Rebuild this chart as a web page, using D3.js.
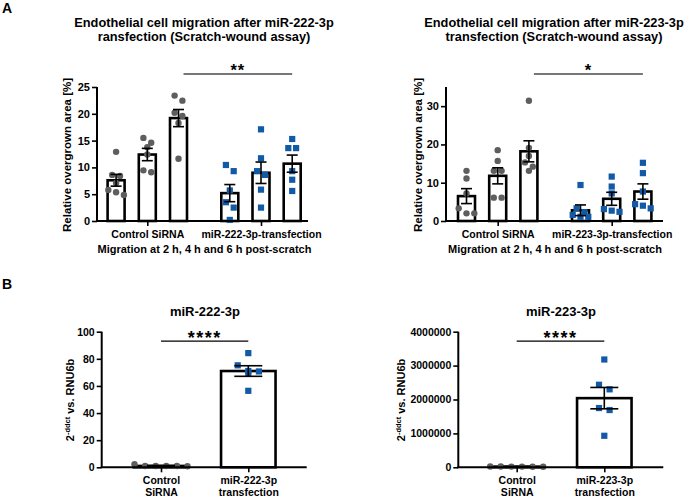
<!DOCTYPE html>
<html><head><meta charset="utf-8">
<script src="https://cdn.jsdelivr.net/npm/d3@7"></script>
<style>
body{margin:0;background:#fff}
svg{display:block}
text{font-family:"Liberation Sans",Arial,sans-serif;font-weight:bold;fill:#000}
</style>
</head><body><svg id="c" width="685" height="497"></svg>
<script>
// ---------- DATA ----------
const timepoints = ["2 h", "4 h", "6 h"];

// Panel A, left (miR-222-3p scratch assay)
const groupsA1 = ["Control SiRNA", "miR-222-3p-transfection"];
const meansA1 = [[7.6, 12.4, 19.2], [5.2, 9.0, 10.7]];
const semA1 = [[1.1, 1.15, 1.6], [1.6, 2.0, 1.6]];
const pointsA1 = [
  [[12.9, 8.6, 8.4, 7.1, 5.8, 5.35, 4.85], [15.5, 14.6, 13.75, 12.4, 9.45, 9.1], [23.4, 22.45, 20.2, 19.6, 18.3, 11.6]],
  [[10.45, 9.3, 5.7, 3.5, 2.5, 0.2], [17.1, 11.7, 9.3, 8.6, 5.85, 2.5], [15.3, 13.6, 13.6, 9.3, 7.7, 5.6]]
];
const ticksA1 = [0, 5, 10, 15, 20, 25];

// Panel A, right (miR-223-3p scratch assay)
const groupsA2 = ["Control SiRNA", "miR-223-3p-transfection"];
const meansA2 = [[6.5, 11.8, 18.2], [2.8, 5.8, 7.7]];
const semA2 = [[1.95, 2.1, 2.75], [1.4, 1.7, 2.0]];
const pointsA2 = [
  [[13.1, 11.1, 7.2, 3.3, 2.0, 2.0], [18.5, 15.7, 13.1, 13.1, 6.1, 6.1], [31.4, 19.1, 17.0, 15.3, 14.2, 13.1]],
  [[9.4, 3.3, 2.3, 1.6, 1.1, 1.1], [11.6, 9.0, 7.2, 3.1, 2.7, 2.4], [15.2, 12.5, 7.7, 4.4, 4.0, 3.3]]
];
const ticksA2 = [0, 10, 20, 30];

// Panel B, left (miR-222-3p expression)
const groupsB1 = ["Control SiRNA", "miR-222-3p transfection"];
const meansB1 = [1.0, 71.0];
const semB1 = [0.3, 3.9];
const pointsB1 = [[1.0, 2.2, 1.0, 0.8, 1.0, 1.0], [84.2, 75.2, 71.0, 69.3, 70.7, 56.4]];
const ticksB1 = [0, 20, 40, 60, 80, 100];

// Panel B, right (miR-223-3p expression)
const groupsB2 = ["Control SiRNA", "miR-223-3p transfection"];
const meansB2 = [20000, 2040000];
const semB2 = [4000, 315000];
const pointsB2 = [[15000, 20000, 25000, 18000, 22000, 20000], [3180000, 2435000, 2300000, 1748000, 1689000, 930000]];
const ticksB2 = [0, 1000000, 2000000, 3000000, 4000000];

// ---------- DRAWING ----------
const svg = d3.select("#c");
const GRAY = "#5e5e5e", BLUE = "#1259a6";

function spread(vals, y, step, thr) {
  const sorted = vals.map(v => ({v})).sort((a, b) => b.v - a.v);
  const rows = []; let cur = null;
  for (const p of sorted) {
    const py = y(p.v);
    if (cur && Math.abs(py - cur.start) < thr) cur.items.push(p);
    else { cur = {start: py, items: [p]}; rows.push(cur); }
  }
  const out = [];
  rows.forEach(r => { const k = r.items.length; r.items.forEach((p, j) => out.push({v: p.v, dx: (j - (k - 1) / 2) * step})); });
  return out;
}

function drawMarks(g, pts, cx, y, isCtrl, step, thr) {
  const s = spread(pts, y, step, thr);
  if (isCtrl) {
    g.selectAll(null).data(s).enter().append("circle")
      .attr("cx", d => cx + d.dx).attr("cy", d => y(d.v)).attr("r", 3.2).attr("fill", GRAY);
  } else {
    g.selectAll(null).data(s).enter().append("rect")
      .attr("x", d => cx + d.dx - 3.1).attr("y", d => y(d.v) - 3.1)
      .attr("width", 6.2).attr("height", 6.2).attr("fill", BLUE);
  }
}

function errBar(g, cx, y, m, e, cap) {
  g.append("line").attr("x1", cx).attr("x2", cx).attr("y1", y(m - e)).attr("y2", y(m + e))
    .attr("stroke", "#000").attr("stroke-width", 1.6);
  [m - e, m + e].forEach(v => g.append("line").attr("x1", cx - cap).attr("x2", cx + cap)
    .attr("y1", y(v)).attr("y2", y(v)).attr("stroke", "#000").attr("stroke-width", 1.6));
}

function axes(g, c, y, xg, ticks, fmt, tickFont, xPad) {
  const ya = d3.axisLeft(y).tickValues(ticks).tickSize(5).tickPadding(2).tickSizeOuter(0).tickFormat(fmt);
  const gy = g.append("g").attr("transform", `translate(${c.x0},0)`).call(ya);
  gy.select(".domain").remove();
  gy.selectAll(".tick line").attr("stroke", "#000").attr("stroke-width", 1.6);
  gy.selectAll("text").attr("font-size", tickFont).attr("font-family", null).attr("fill", "#000");
  g.append("line").attr("x1", c.x0).attr("x2", c.x0).attr("y1", c.yBot).attr("y2", c.yTop)
    .attr("stroke", "#000").attr("stroke-width", 2);
  const xa = d3.axisBottom(xg).tickSize(5).tickPadding(xPad).tickSizeOuter(0);
  const gx = g.append("g").attr("transform", `translate(0,${c.yBot})`).call(xa);
  gx.select(".domain").remove();
  gx.selectAll(".tick line").attr("stroke", "#000").attr("stroke-width", 1.6);
  gx.selectAll("text").attr("font-family", null).attr("fill", "#000");
  g.append("line").attr("x1", c.x0 - 1).attr("x2", c.x1).attr("y1", c.yBot).attr("y2", c.yBot)
    .attr("stroke", "#000").attr("stroke-width", 2);
  return gx;
}

function yTitle(x, y, parts, size) {
  const t = svg.append("text").attr("transform", `translate(${x},${y}) rotate(-90)`)
    .attr("text-anchor", "middle").attr("font-size", size);
  parts.forEach(p => {
    const ts = t.append("tspan").text(p.t);
    if (p.sup) ts.attr("font-size", size * 0.68).attr("dy", -4.5);
    if (p.after) ts.attr("dy", 4.5);
  });
}

function panelA(c, groups, means, sem, points, ticks) {
  const g = svg.append("g");
  const y = d3.scaleLinear().domain([0, c.max]).range([c.yBot, c.yTop]);
  const xg = d3.scalePoint().domain(groups).range(c.gc);
  const xt = d3.scalePoint().domain(timepoints).range([-31.2, 31.2]);
  const bw = 17;
  groups.forEach((grp, gi) => timepoints.forEach((tp, ti) => {
    const cx = xg(grp) + xt(tp);
    g.append("rect").attr("x", cx - bw / 2).attr("y", y(means[gi][ti]))
      .attr("width", bw).attr("height", c.yBot - y(means[gi][ti]))
      .attr("fill", "#fff").attr("stroke", "#000").attr("stroke-width", 2.6);
  }));
  groups.forEach((grp, gi) => timepoints.forEach((tp, ti) => {
    drawMarks(g, points[gi][ti], xg(grp) + xt(tp), y, gi === 0, 7.8, 6.5);
  }));
  groups.forEach((grp, gi) => timepoints.forEach((tp, ti) => {
    errBar(g, xg(grp) + xt(tp), y, means[gi][ti], sem[gi][ti], 5.5);
  }));
  const gx = axes(g, c, y, xg, ticks, d3.format("d"), 11, 4.5);
  gx.selectAll("text").attr("font-size", 10.5);
  const sx1 = xg(groups[0]) + xt(timepoints[2]) + 5, sx2 = xg(groups[1]) + xt(timepoints[2]);
  const sy = c.yTop - 13;
  g.append("line").attr("x1", sx1).attr("x2", sx2).attr("y1", sy).attr("y2", sy)
    .attr("stroke", "#4a4a4a").attr("stroke-width", 1.6);
  g.append("text").attr("x", (sx1 + sx2) / 2).attr("y", sy + 1.5).attr("text-anchor", "middle")
    .attr("font-size", 16.5).attr("letter-spacing", 1).text(c.sig);
  c.title.forEach((l, i) => svg.append("text").attr("x", c.tx).attr("y", 26.5 + i * 14.5)
    .attr("text-anchor", "middle").attr("font-size", 12.8).text(l));
  svg.append("text").attr("x", c.xtx).attr("y", 253).attr("text-anchor", "middle")
    .attr("font-size", 11).text("Migration at 2 h, 4 h and 6 h post-scratch");
  yTitle(c.ytx, 155, [{t: "Relative overgrown area [%]"}], 11.5);
}

function panelB(c, groups, means, sem, points, ticks) {
  const g = svg.append("g");
  const y = d3.scaleLinear().domain([0, ticks[ticks.length - 1]]).range([c.yBot, c.yTop]);
  const xg = d3.scalePoint().domain(groups).range(c.gc);
  const bw = 54.5;
  groups.forEach((grp, gi) => {
    g.append("rect").attr("x", xg(grp) - bw / 2).attr("y", y(means[gi]))
      .attr("width", bw).attr("height", c.yBot - y(means[gi]))
      .attr("fill", "#fff").attr("stroke", "#000").attr("stroke-width", 2.6);
  });
  groups.forEach((grp, gi) => drawMarks(g, points[gi], xg(grp), y, gi === 0, 10.6, 6.5));
  groups.forEach((grp, gi) => errBar(g, xg(grp), y, means[gi], sem[gi], 14));
  const gx = axes(g, c, y, xg, ticks, d3.format("d"), 10.5, 4.5);
  gx.selectAll(".tick text").each(function(d) {
    const t = d3.select(this); const words = d.split(" ");
    t.text(null).attr("font-size", 10.5);
    words.forEach((w, i) => t.append("tspan").attr("x", 0).attr("dy", i === 0 ? "0.71em" : 11.3).text(w));
  });
  const sx1 = xg(groups[0]), sx2 = xg(groups[1]);
  const sy = y(ticks[ticks.length - 1] * 0.93);
  g.append("line").attr("x1", sx1).attr("x2", sx2).attr("y1", sy).attr("y2", sy)
    .attr("stroke", "#000").attr("stroke-width", 1.3);
  g.append("text").attr("x", (sx1 + sx2) / 2).attr("y", sy + 2.5).attr("text-anchor", "middle")
    .attr("font-size", 18).attr("letter-spacing", 1.5).text("****");
  svg.append("text").attr("x", c.tx).attr("y", 316).attr("text-anchor", "middle")
    .attr("font-size", 13).text(c.title);
  yTitle(c.ytx, 400, [{t: "2"}, {t: "-ddct", sup: true}, {t: " vs. RNU6b", after: true}], 11);
}

panelA({x0: 97, x1: 308, yTop: 87, yBot: 221, gc: [147.3, 261], sig: "**", max: 25,
  title: ["Endothelial cell migration after miR-222-3p", "ransfection (Scratch-wound assay)"],
  tx: 204, xtx: 204.5, ytx: 71}, groupsA1, meansA1, semA1, pointsA1, ticksA1);
panelA({x0: 446, x1: 663, yTop: 87, yBot: 221, gc: [497.7, 611.7], sig: "*", max: 35,
  title: ["Endothelial cell migration after miR-223-3p", "transfection (Scratch-wound assay)"],
  tx: 554, xtx: 555, ytx: 422}, groupsA2, meansA2, semA2, pointsA2, ticksA2);
panelB({x0: 101.7, x1: 306.7, yTop: 331.7, yBot: 467.3, gc: [161, 248.3],
  title: "miR-222-3p", tx: 205, ytx: 74}, groupsB1, meansB1, semB1, pointsB1, ticksB1);
panelB({x0: 458.3, x1: 663.3, yTop: 331.7, yBot: 467.3, gc: [516.7, 604.3],
  title: "miR-223-3p", tx: 561, ytx: 405}, groupsB2, meansB2, semB2, pointsB2, ticksB2);

svg.append("text").attr("x", 2).attr("y", 12.5).attr("font-size", 14).text("A");
svg.append("text").attr("x", 2).attr("y", 289).attr("font-size", 14).text("B");
</script></body></html>
